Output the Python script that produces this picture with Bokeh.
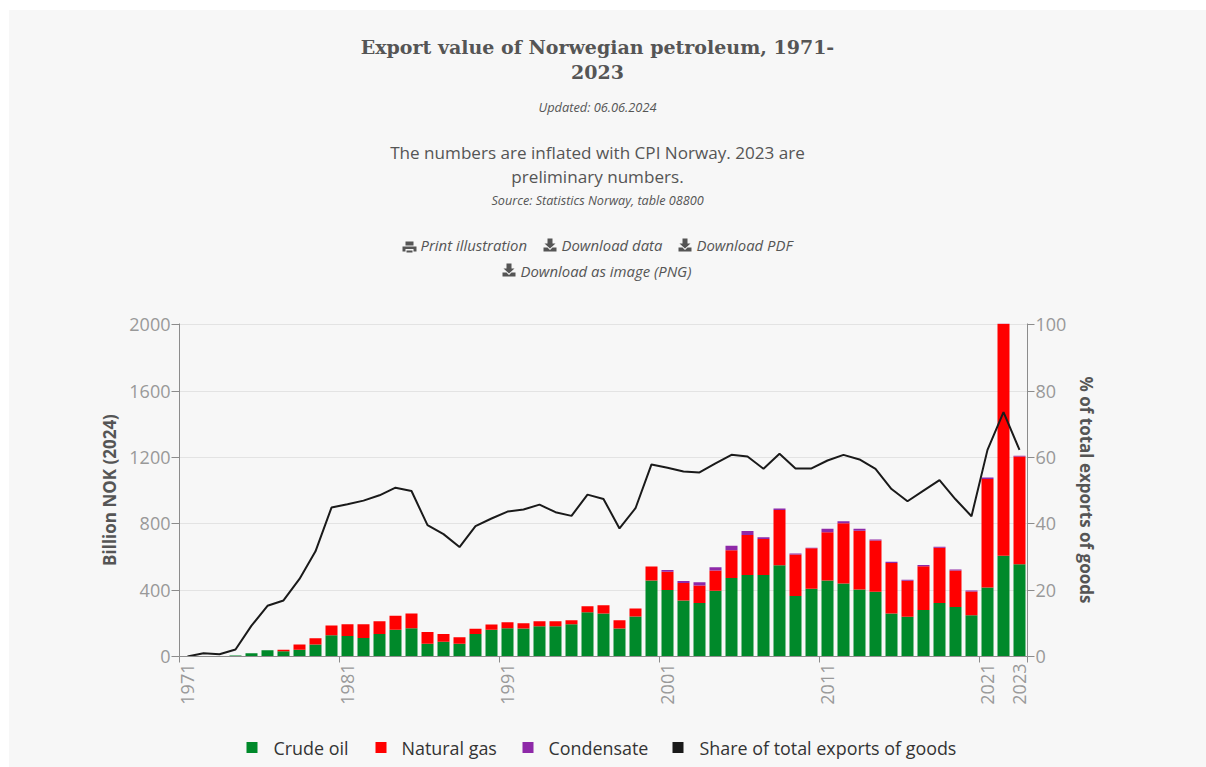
from bokeh.plotting import figure
from bokeh.embed import file_html
from bokeh.layouts import column
from bokeh.resources import INLINE
from bokeh.core.properties import value
from bokeh.models import Range1d, LinearAxis, FixedTicker, ColumnDataSource

years = list(range(1971, 2024))
oil = [0, 0, 0, 6, 20, 38, 32, 40, 73, 128,
       124, 112, 136, 162, 170, 77, 89, 77, 136, 162,
       170, 169, 183, 183, 195, 267, 259, 169, 241, 458,
       401, 337, 323, 396, 473, 491, 491, 550, 365, 408,
       459, 440, 404, 390, 260, 240, 280, 323, 298, 248,
       416, 608, 556]
gas = [0, 0, 0, 0, 0, 0, 8, 33, 37, 59,
       71, 83, 77, 84, 90, 71, 47, 39, 32, 31,
       37, 32, 30, 30, 24, 36, 50, 50, 48, 84,
       110, 106, 105, 122, 168, 242, 217, 333, 250, 244,
       290, 364, 355, 310, 304, 217, 264, 333, 220, 144,
       654, 1398, 650]
condensate = [0] * 30 + [11, 12, 19, 20, 27, 24, 11, 10, 6, 4,
                         22, 12, 12, 6, 8, 6, 8, 6, 6, 6,
                         9, 4, 5]
share = [0, 1.0, 0.7, 2.1, 9.3, 15.3, 16.9, 23.4, 31.7, 44.9,
         45.9, 47.0, 48.6, 50.9, 49.9, 39.6, 36.9, 33.0, 39.3, 41.6,
         43.7, 44.3, 45.8, 43.5, 42.4, 48.8, 47.5, 38.6, 44.7, 57.9,
         56.9, 55.8, 55.5, 58.2, 60.8, 60.3, 56.6, 61.1, 56.7, 56.7,
         59.1, 60.8, 59.4, 56.6, 50.5, 46.8, 50.0, 53.2, 47.4, 42.3,
         62.3, 73.7, 62.3]
series_names = ["Crude oil", "Natural gas", "Condensate", "Share of total exports of goods"]
year_ticks = [1971, 1981, 1991, 2001, 2011, 2021, 2023]
edge_ticks = [1971, 1981, 1991, 2001, 2011, 2021, 2024]
left_ticks = [0, 400, 800, 1200, 1600, 2000]
right_ticks = [0, 20, 40, 60, 80, 100]

BG = "#f7f7f7"
GREEN, RED, PURPLE, BLACK = "#00892a", "#ff0000", "#8e29a8", "#1a1a1a"
ML, MT = 9, 10              # card position on the page
W = 1206 - ML
SPLIT = 310                 # header figure ends here, chart figure starts here
LEG = 725                   # legend figure starts here
FL, FR, FT, FB = 179, 1027, 323, 656  # plot frame on the page


def page_fig(y0, y1):
    """A figure whose data space is the page's pixels (frames line up in the column)."""
    f = figure(width=W, height=y1 - y0, x_range=Range1d(FL, FR), y_range=Range1d(y1, y0),
               x_axis_location=None, y_axis_location=None, toolbar_location=None, tools="",
               output_backend="svg", background_fill_color=BG, border_fill_color=BG,
               outline_line_color=None, min_border=0)
    f.grid.visible = False
    return f


def txt(f, s, x, y, size, color="#555555", font="Open Sans", style_="normal", align="center"):
    f.text([x], [y], text=[s], text_font=value(font), text_font_size=f"{size}px",
           text_font_style=style_, text_color=color, text_align=align, text_baseline="middle")


# ---------- header
head = page_fig(MT, SPLIT)
CX = 597
txt(head, "Export value of Norwegian petroleum, 1971-", CX, 46.5, 19, font="DejaVu Serif", style_="bold")
txt(head, "2023", CX, 71.5, 19, font="DejaVu Serif", style_="bold")
txt(head, "Updated: 06.06.2024", CX, 106, 12.8, style_="italic")
txt(head, "The numbers are inflated with CPI Norway. 2023 are", CX, 152, 17.1)
txt(head, "preliminary numbers.", CX, 176, 17.1)
txt(head, "Source: Statistics Norway, table 08800", CX, 199, 12.65, style_="italic")
for s, x, y in [("Print illustration", 420, 244.5), ("Download data", 561, 244.5),
                ("Download PDF", 696, 244.5), ("Download as image (PNG)", 520, 270)]:
    txt(head, s, x, y, 14.9, style_="italic", align="left")


def poly(pts, x, y):
    head.patch([x + a for a, _ in pts], [y + b for _, b in pts], fill_color="#555555", line_color=None)


def download_icon(x, y):
    poly([(4, -7), (9, -7), (9, -2), (12, -2), (6.5, 3), (1, -2), (4, -2)], x, y)
    poly([(0, 2), (4, 2), (6.5, 4.5), (9, 2), (13, 2), (13, 6), (0, 6)], x, y)


def print_icon(x, y):
    poly([(3, -5), (11, -5), (11, -1), (3, -1)], x, y)
    poly([(0, 0), (14, 0), (14, 5), (11, 5), (11, 2.5), (3, 2.5), (3, 5), (0, 5)], x, y)
    poly([(4, 4), (10, 4), (10, 6), (4, 6)], x, y)


print_icon(402, 246)
for ix, iy in [(543, 245), (678, 245), (502, 270)]:
    download_icon(ix, iy)

# ---------- chart
H = LEG - SPLIT
p = figure(width=W, height=H, frame_width=FR - FL, frame_height=FB - FT,
           min_border_left=FL - ML, min_border_top=FT - SPLIT,
           min_border_right=W - (FR - FL) - (FL - ML), min_border_bottom=H - (FB - SPLIT),
           x_range=Range1d(1970.5, 2023.5), y_range=Range1d(0, 2008),
           x_axis_location=None, y_axis_location="left",
           toolbar_location=None, tools="", output_backend="svg",
           background_fill_color=BG, border_fill_color=BG, outline_line_color=None)

p.xgrid.visible = False
p.ygrid.grid_line_color = "#e3e3e3"
p.ygrid.grid_line_width = 1.2
p.ygrid.ticker = FixedTicker(ticks=left_ticks)

src = ColumnDataSource(dict(year=years, oil=oil, gas=gas, condensate=condensate, share=share))
p.vbar_stack(["oil", "gas", "condensate"], x="year", width=0.75, source=src,
             color=[GREEN, RED, PURPLE], line_width=0)

p.extra_y_ranges["pct"] = Range1d(0, 100.4)
p.line("year", "share", source=src, y_range_name="pct", color=BLACK, line_width=2)

AX = "#8c8c8c"
TICK = "#999999"


def style(ax):
    ax.axis_line_color = AX
    ax.major_tick_line_color = AX
    ax.minor_tick_line_color = None
    ax.major_label_text_color = TICK
    ax.major_label_text_font = "Open Sans"
    ax.major_label_text_font_size = "18px"
    ax.axis_label_text_color = "#555555"
    ax.axis_label_text_font = "Open Sans"
    ax.axis_label_text_font_size = "17px"
    ax.axis_label_text_font_style = "bold"


yl = p.yaxis[0]
style(yl)
yl.ticker = FixedTicker(ticks=left_ticks)
yl.major_tick_out = 8
yl.major_tick_in = 0
yl.major_label_standoff = 1
yl.axis_label = "Billion NOK (2024)"
yl.axis_label_standoff = 5

yr = LinearAxis(y_range_name="pct", ticker=FixedTicker(ticks=right_ticks))
style(yr)
yr.major_tick_out = 7
yr.major_tick_in = 0
yr.major_label_standoff = 1
yr.axis_label = "% of total exports of goods"
yr.axis_label_standoff = 6
p.add_layout(yr, "right")

# tick marks sit on the band edges, labels in the band centres
p.extra_x_ranges["edges"] = Range1d(1971, 2024)
xe = LinearAxis(x_range_name="edges", ticker=FixedTicker(ticks=edge_ticks),
                major_label_overrides={t: "" for t in edge_ticks})
style(xe)
xe.major_label_text_font_size = "0px"
xe.major_label_standoff = 0
xe.major_tick_out = 6
xe.major_tick_in = 0
p.add_layout(xe, "below")

xa = LinearAxis(ticker=FixedTicker(ticks=year_ticks),
                major_label_overrides={t: str(t) for t in year_ticks})
style(xa)
xa.axis_line_color = None
xa.major_tick_line_color = None
xa.major_tick_out = 0
xa.major_tick_in = 0
xa.major_label_standoff = 1
xa.major_label_orientation = 1.5708
p.add_layout(xa, "below")

# ---------- legend
leg = page_fig(LEG, 767)
LY = 747
for name, col, mx, tx in zip(series_names, [GREEN, RED, PURPLE, BLACK],
                             [246, 375, 522, 672], [273, 401, 548, 699]):
    leg.quad(left=mx, right=mx + 11, top=LY - 5.5, bottom=LY + 5.5, color=col, line_width=0)
    txt(leg, name, tx, LY, 17.9, color="#333333", align="left")

page = column(head, p, leg, spacing=0, margin=(MT, 0, 0, ML), styles={"background-color": BG})
open("out.html", "w").write(file_html(page, INLINE))
